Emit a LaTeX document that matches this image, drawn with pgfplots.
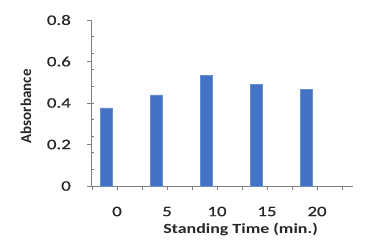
\documentclass[border=0pt]{standalone}
\usepackage{fontspec}
\setmainfont[FakeStretch=1.28]{Carlito}
\newfontfamily\ylabfont{Carlito}
\newfontfamily\tickfont[FakeStretch=1.3, FakeBold=0.6]{Carlito}
\usepackage{pgfplots}
\pgfplotsset{compat=1.18}
\definecolor{barblue}{HTML}{4472C4}
\definecolor{axgray}{HTML}{7F7F7F}
\definecolor{txt}{HTML}{262626}
\begin{document}
\begin{tikzpicture}
\useasboundingbox (0,0) rectangle (369pt,241pt);
\begin{axis}[
  at={(91pt,55pt)}, anchor=south west,
  scale only axis, width=262pt, height=166pt,
  xmin=-0.52, xmax=4.72, ymin=0, ymax=0.8,
  axis x line=bottom, axis y line=left,
  axis line style={-, draw=axgray, line width=0.9pt},
  every tick/.style={draw=axgray, line width=0.8pt},
  xtick={0,1,2,3,4}, xticklabels={0,5,10,15,20},
  xtick align=inside, major tick length=4pt,
  extra x ticks={-0.5,0.5,1.5,2.5,3.5,4.5}, extra x tick labels={},
  extra x tick style={xtick align=outside, major tick length=4pt},
  ytick={0,0.2,0.4,0.6,0.8},
  yticklabels={0,0.2,0.4,0.6,0.8},
  ytick align=outside,
  extra y ticks={0.08,0.16,0.24,0.32,0.40,0.48,0.56,0.64,0.72}, extra y tick labels={},
  extra y tick style={ytick align=inside, major tick length=3pt},
  xticklabel style={anchor=center, inner sep=0pt, yshift=-21.5pt, font=\fontsize{14.5}{16}\tickfont, text=txt},
  yticklabel style={anchor=east, inner sep=0pt, xshift=-16pt, font=\fontsize{14.5}{16}\tickfont, text=txt},
  xlabel={Standing Time (min.)},
  xlabel style={at={(rel axis cs:0.571,0)}, anchor=base, inner sep=0pt, yshift=-47pt, font=\fontsize{14}{16}\selectfont\bfseries, text=txt},
  ylabel={Absorbance},
  ylabel style={at={(rel axis cs:0,0.48)}, anchor=center, inner sep=0pt, yshift=65pt, font=\fontsize{15}{17}\selectfont\ylabfont\bfseries, text=txt},
  ybar, bar width=12pt, bar shift=-11pt,
  clip=false,
]
\addplot[fill=barblue, draw=barblue!80!white, line width=0.3pt] coordinates {(0,0.376) (1,0.439) (2,0.532) (3,0.490) (4,0.466)};
\end{axis}
\end{tikzpicture}
\end{document}
